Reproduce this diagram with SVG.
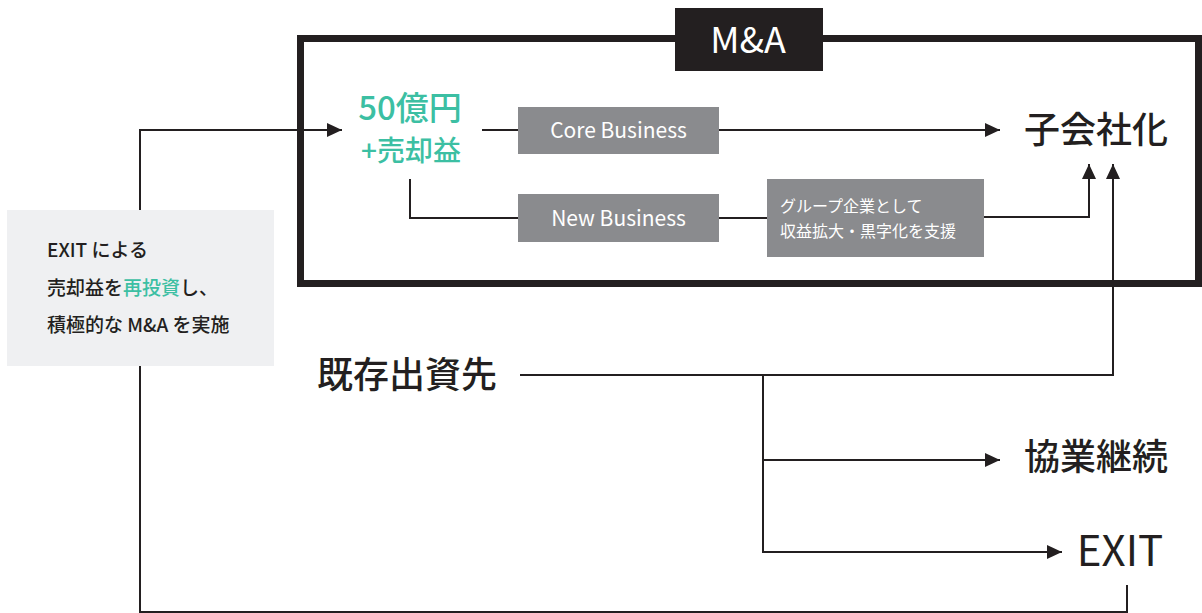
<svg xmlns="http://www.w3.org/2000/svg" width="1202" height="613" viewBox="0 0 1202 613">
<style>
.ln{fill:none;stroke:#231f20;stroke-width:2}
.jp{font-family:"Noto Sans CJK JP","Noto Sans",sans-serif}
.big{font-size:36px;fill:#231f20;font-weight:500}
.box{fill:#8a8b8e}
.wt{fill:#ffffff}
.teal{fill:#3cbfa3}
</style>
<defs>
<marker id="ah2" markerWidth="15" markerHeight="14" refX="15" refY="7" orient="auto" markerUnits="userSpaceOnUse" viewBox="0 0 15 14">
<path d="M0,0 L15,7 L0,14 Z" fill="#231f20"/>
</marker>
</defs>

<g id="frame">
<rect x="300.5" y="38.5" width="898" height="245" fill="none" stroke="#231f20" stroke-width="7"/>
</g>

<g id="connectors">
<polyline class="ln" points="140,366 140,612 1127,612 1127,585"/>
<polyline class="ln" points="140,210 140,130 342,130" marker-end="url(#ah2)"/>
<line class="ln" x1="482" y1="130" x2="518" y2="130"/>
<line class="ln" x1="719" y1="130" x2="1000" y2="130" marker-end="url(#ah2)"/>
<polyline class="ln" points="410,179 410,218 518,218"/>
<line class="ln" x1="719" y1="218" x2="767" y2="218"/>
<polyline class="ln" points="984,217 1089,217 1089,164" marker-end="url(#ah2)"/>
<polyline class="ln" points="520,375 1113,375 1113,164" marker-end="url(#ah2)"/>
<polyline class="ln" points="763,375 763,552 1062,552" marker-end="url(#ah2)"/>
<line class="ln" x1="763" y1="460" x2="1000" y2="460" marker-end="url(#ah2)"/>
</g>

<g id="ma-label">
<rect x="675" y="8" width="148" height="63" fill="#231f20"/>
<text x="748" y="53" text-anchor="middle" class="jp wt" font-size="36">M&amp;A</text>
</g>

<g id="fund">
<text x="410" y="120" text-anchor="middle" class="jp teal" font-size="33" font-weight="500">50億円</text>
<text x="411" y="161" text-anchor="middle" class="jp teal" font-size="28" font-weight="500">+売却益</text>
</g>

<g id="core">
<rect class="box" x="518" y="107" width="201" height="47"/>
<text x="618.5" y="138" text-anchor="middle" class="jp wt" font-size="21">Core Business</text>
</g>

<g id="new">
<rect class="box" x="518" y="194" width="201" height="48"/>
<text x="618.5" y="226" text-anchor="middle" class="jp wt" font-size="21">New Business</text>
</g>

<g id="support">
<rect class="box" x="767" y="179" width="217" height="78"/>
<text x="780" y="212" class="jp wt" font-size="16">グループ企業として</text>
<text x="780" y="237" class="jp wt" font-size="16">収益拡大・黒字化を支援</text>
</g>

<g id="subsidiary">
<text x="1096" y="143" text-anchor="middle" class="jp big">子会社化</text>
</g>

<g id="note">
<rect x="7" y="210" width="267" height="156" fill="#eff0f2"/>
<text x="47" y="257" class="jp" font-size="19" font-weight="500" fill="#231f20">EXIT による</text>
<text x="47" y="295" class="jp" font-size="19" font-weight="500" fill="#231f20">売却益を<tspan class="teal">再投資</tspan>し、</text>
<text x="47" y="332" class="jp" font-size="19" font-weight="500" fill="#231f20">積極的な M&amp;A を実施</text>
</g>

<g id="existing">
<text x="407" y="388" text-anchor="middle" class="jp big">既存出資先</text>
</g>

<g id="collab">
<text x="1096" y="470" text-anchor="middle" class="jp big">協業継続</text>
</g>

<g id="exit">
<text x="1120" y="566" text-anchor="middle" class="jp" font-size="42" fill="#231f20">EXIT</text>
</g>
</svg>
